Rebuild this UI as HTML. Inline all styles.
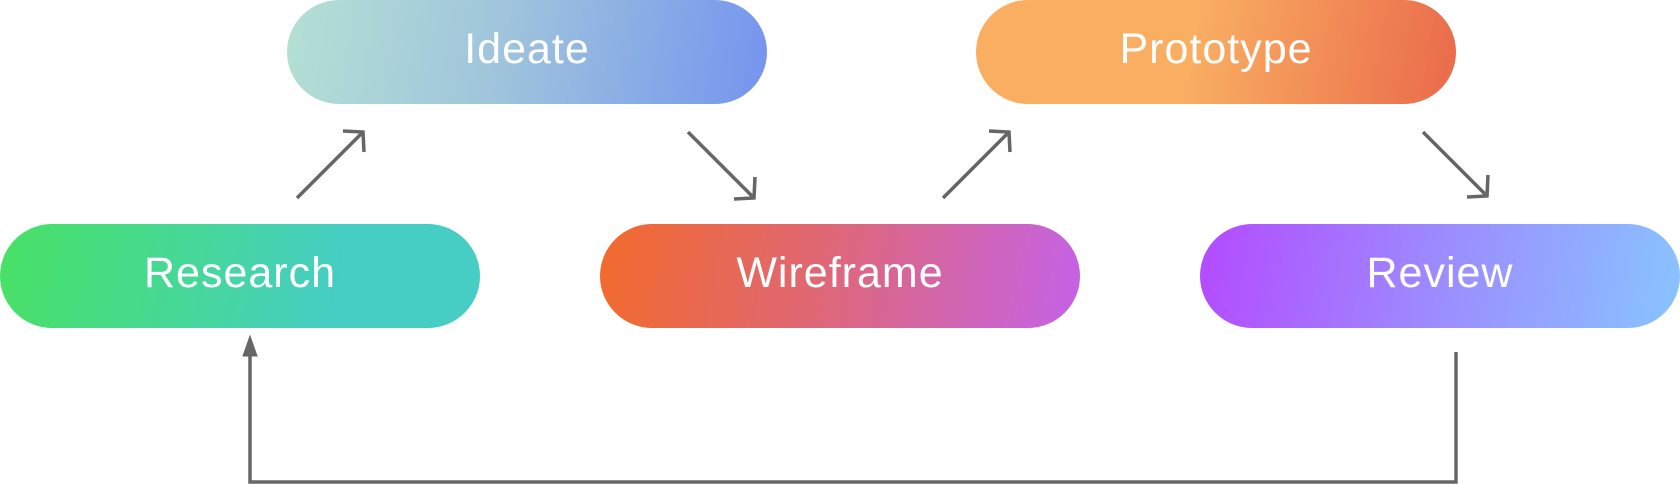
<!DOCTYPE html>
<html><head><meta charset="utf-8"><style>
body{margin:0;width:1680px;height:484px;background:#fff;position:relative;overflow:hidden;font-family:"Liberation Sans",sans-serif}
.p{position:absolute;width:480px;height:104px;border-radius:52px;color:#fff;font-size:43px;display:flex;align-items:center;justify-content:center;letter-spacing:1px;padding-bottom:6px;box-sizing:border-box}
svg{position:absolute;left:0;top:0}
</style></head><body>
<div class="p" style="left:287px;top:0;background:linear-gradient(100deg,#b4e0d4 0%,#9fc4dc 45%,#7594ef 100%)">Ideate</div>
<div class="p" style="left:976px;top:0;background:linear-gradient(100deg,#f9ae62 0%,#f9ae62 45%,#ea6a4b 100%)">Prototype</div>
<div class="p" style="left:0;top:224px;background:linear-gradient(100deg,#48e164 0%,#46d6a0 45%,#46cdc4 70%,#46cdc4 100%)">Research</div>
<div class="p" style="left:600px;top:224px;background:linear-gradient(100deg,#f26a2b 0%,#e06874 45%,#c462e8 100%)">Wireframe</div>
<div class="p" style="left:1200px;top:224px;background:linear-gradient(100deg,#b44aff 0%,#9c8cff 50%,#88c4ff 100%)">Review</div>
<svg width="1680" height="484" fill="none" stroke="#666" stroke-width="3.5">
<path d="M297 198 L363 132 M343 131 L363 132 L364 152"/>
<path d="M688 132 L754 198 M734 199 L754 198 L755 177"/>
<path d="M943 198 L1009 132 M989 131 L1009 132 L1010 152"/>
<path d="M1423 132 L1487 196 M1467 197 L1487 196 L1488 175"/>
<path d="M1456 352 L1456 482 L250 482 L250 352"/>
<path d="M250 336 L257 356 L243 356 Z" fill="#666" stroke-width="1"/>
</svg>
</body></html>
